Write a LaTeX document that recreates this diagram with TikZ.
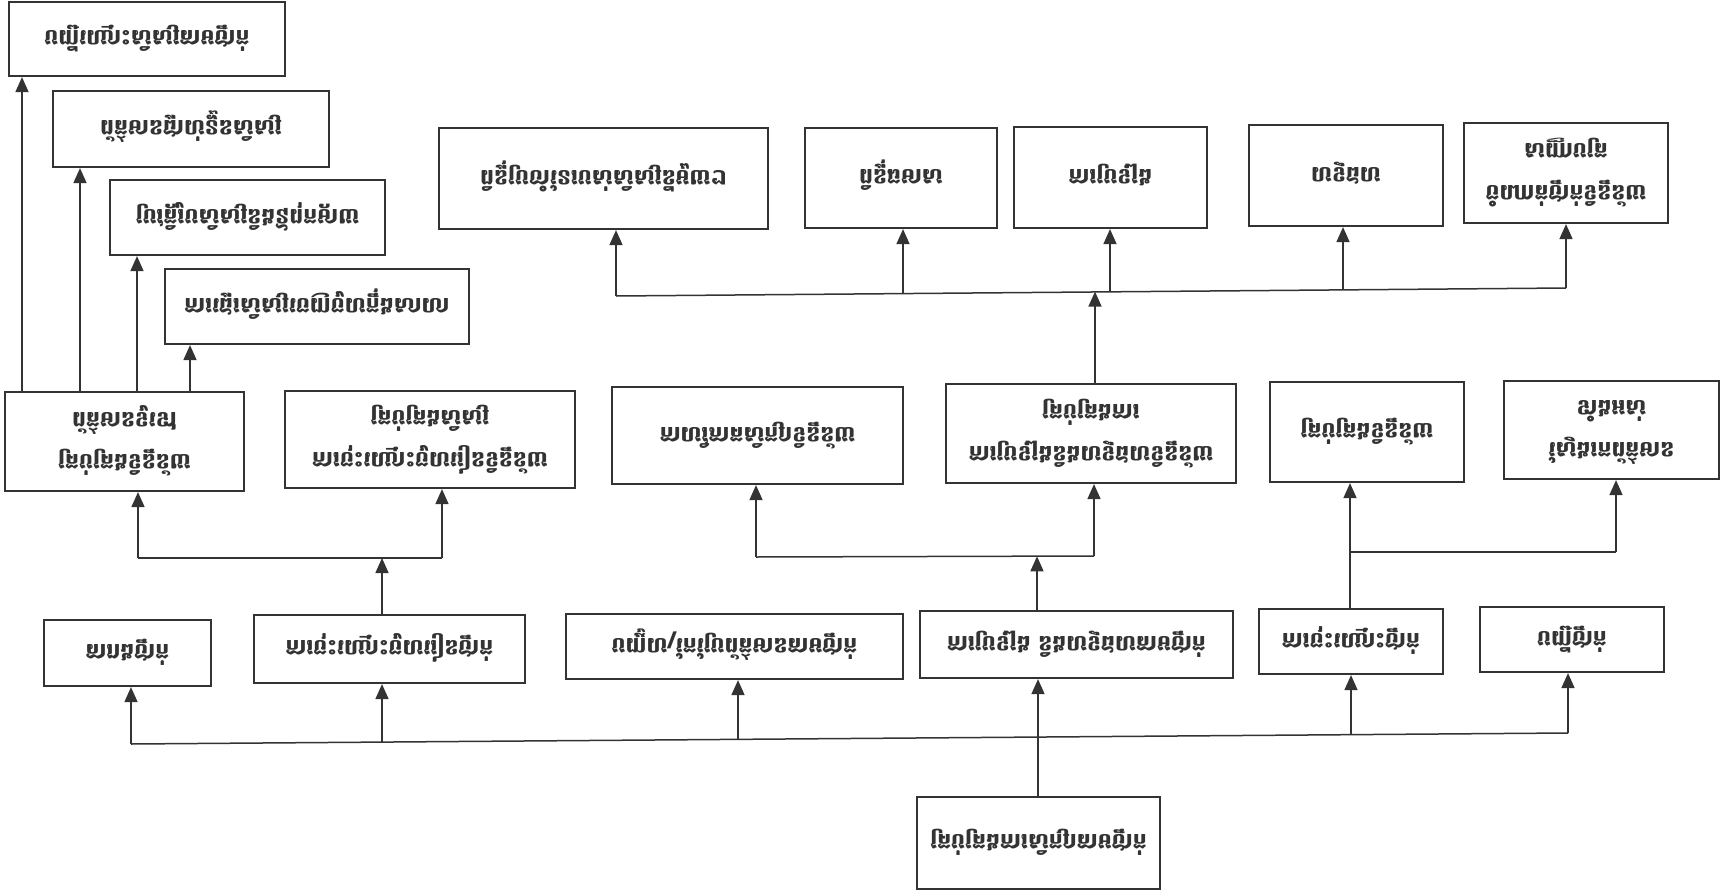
\documentclass[tikz,border=0pt]{standalone}
\usepackage{fontspec}
\usepackage{graphicx}
\newfontfamily\khmer[Script=Khmer]{Battambang}
\usetikzlibrary{arrows.meta}
\definecolor{ink}{HTML}{333333}
\newcommand\fl[1]{\scalebox{1}[-1]{\khmer\bfseries\fontsize{22}{42}\selectfont\begin{tabular}{@{}c@{}}#1\end{tabular}}}
\newcommand\slashup{\raisebox{0.42em}{\scalebox{1}[-1]{/}}}
\begin{document}
\begin{tikzpicture}[x=1pt,y=-1pt,
  box/.style={draw=ink,line width=2.2pt,fill=white,inner sep=0pt,text=ink},
  ln/.style={draw=ink,line width=1.5pt},
  arr/.style={draw=ink,line width=1.5pt,-{Triangle[length=15pt,width=13pt]}}]
\fill[white] (0,0) rectangle (1721,894);
\useasboundingbox (0,0) rectangle (1721,894);
% boxes
\node[box,minimum width=276pt,minimum height=74pt] (A1) at (147,39) {\fl{បញ្ជីឈ្មោះសិស្សតាមថ្នាក់}};
\node[box,minimum width=276pt,minimum height=76pt] (A2) at (191,129) {\fl{ព័ត៌មានផ្ទាល់ខ្លួនសិស្ស}};
\node[box,minimum width=275pt,minimum height=75pt] (A3) at (247.5,217.5) {\fl{ប្រវត្តិរូបសិស្សនិងឪពុកម្តាយ}};
\node[box,minimum width=304pt,minimum height=75pt] (A4) at (317,306.5) {\fl{ការផ្ទេរសិស្សចេញចូលក្នុងសាលា}};
\node[box,minimum width=239pt,minimum height=99pt] (M1) at (124.5,441.5) {\fl{គ្រប់គ្រងទិន្នន័យ\\ព័ត៌មានទូទៅ}};
\node[box,minimum width=290pt,minimum height=97pt] (M2) at (430,439.5) {\fl{ការចុះឈ្មោះចូលរៀនទិន្នន័យ\\គ្រប់គ្រងសិស្ស}};
\node[box,minimum width=291pt,minimum height=97pt] (M3) at (757.5,435.5) {\fl{កាលវិភាគសិក្សាទិន្នន័យ}};
\node[box,minimum width=290pt,minimum height=99pt] (M4) at (1091,433.5) {\fl{ការប្រឡងនិងលទ្ធផលទិន្នន័យ\\គ្រប់គ្រងការ}};
\node[box,minimum width=194pt,minimum height=100pt] (M5) at (1367,432) {\fl{គ្រប់គ្រងទិន្នន័យ}};
\node[box,minimum width=215pt,minimum height=98pt] (M6) at (1611.5,430) {\fl{ស្វែងរកព័ត៌មាន\\ទាំងអស់}};
\node[box,minimum width=329pt,minimum height=101pt] (T1) at (603.5,178.5) {\fl{ពិន្ទុប្រចាំខែរបស់សិស្សនីមួយៗ}};
\node[box,minimum width=192pt,minimum height=100pt] (T2) at (901,178) {\fl{ពិន្ទុឆមាស}};
\node[box,minimum width=193pt,minimum height=101pt] (T3) at (1110.5,177.5) {\fl{ការប្រឡង}};
\node[box,minimum width=194pt,minimum height=101pt] (T4) at (1346,175.5) {\fl{លទ្ធផល}};
\node[box,minimum width=204pt,minimum height=100pt] (T5) at (1566,173) {\fl{ចំណាត់ថ្នាក់ទិន្នន័យ\\សញ្ញាបត្រ}};
\node[box,minimum width=167pt,minimum height=66pt] (B1) at (127.5,653) {\fl{តារាងថ្នាក់}};
\node[box,minimum width=271pt,minimum height=68pt] (B2) at (389.5,649) {\fl{ការចុះឈ្មោះចូលរៀនថ្នាក់}};
\node[box,minimum width=337pt,minimum height=65pt] (B3) at (734.5,646.5) {\fl{បញ្ចូល\slashup កែប្រែព័ត៌មានតាមថ្នាក់}};
\node[box,minimum width=313pt,minimum height=67pt] (B4) at (1076.5,644.5) {\fl{ការប្រឡង និងលទ្ធផលតាមថ្នាក់}};
\node[box,minimum width=184pt,minimum height=65pt] (B5) at (1351,641.5) {\fl{ការចុះឈ្មោះថ្នាក់}};
\node[box,minimum width=184pt,minimum height=65pt] (B6) at (1572,639.5) {\fl{បញ្ជីថ្នាក់}};
\node[box,minimum width=243pt,minimum height=92pt] (R) at (1038.5,843) {\fl{គ្រប់គ្រងការសិក្សាតាមថ្នាក់}};
% bus coordinates
\coordinate (k1) at (131,744);
\coordinate (k2) at (382,742);
\coordinate (k3) at (738,739.5);
\coordinate (k4) at (1038,737);
\coordinate (k5) at (1351,734.5);
\coordinate (k6) at (1568,733);
\draw[arr] (R.north -| k4) -- (k4 |- B4.south);
\draw[ln] (k1) -- (k6);
\draw[arr] (k1) -- (k1 |- B1.south);
\draw[arr] (k2) -- (k2 |- B2.south);
\draw[arr] (k3) -- (k3 |- B3.south);
\draw[arr] (k5) -- (k5 |- B5.south);
\draw[arr] (k6) -- (k6 |- B6.south);
% middle level
\coordinate (m1) at (138,558);
\coordinate (m2) at (442,558);
\coordinate (m12) at (382,558);
\draw[arr] (m12 |- B2.north) -- (m12);
\draw[ln] (m1) -- (m2);
\draw[arr] (m1) -- (m1 |- M1.south);
\draw[arr] (m2) -- (m2 |- M2.south);
\coordinate (m3) at (756,557);
\coordinate (m4) at (1094,556);
\coordinate (m34) at (1037,556.3);
\draw[arr] (m34 |- B4.north) -- (m34);
\draw[ln] (m3) -- (m4);
\draw[arr] (m3) -- (m3 |- M3.south);
\draw[arr] (m4) -- (m4 |- M4.south);
\coordinate (m5) at (1350,552);
\coordinate (m6) at (1616,552);
\draw[arr] (m5 |- B5.north) -- (m5 |- M5.south);
\draw[ln] (m5) -- (m6);
\draw[arr] (m6) -- (m6 |- M6.south);
% top level
\coordinate (t1) at (616,296);
\coordinate (t2) at (903,293.5);
\coordinate (t3) at (1110,291.5);
\coordinate (t4) at (1343,289.5);
\coordinate (t5) at (1566,288);
\coordinate (tm) at (1095,291.6);
\draw[ln] (t1) -- (t5);
\draw[arr] (tm |- M4.north) -- (tm);
\draw[arr] (t1) -- (t1 |- T1.south);
\draw[arr] (t2) -- (t2 |- T2.south);
\draw[arr] (t3) -- (t3 |- T3.south);
\draw[arr] (t4) -- (t4 |- T4.south);
\draw[arr] (t5) -- (t5 |- T5.south);
% left group
\coordinate (a1) at (22,0);
\coordinate (a2) at (80,0);
\coordinate (a3) at (137,0);
\coordinate (a4) at (190,0);
\draw[arr] (a1 |- M1.north) -- (a1 |- A1.south);
\draw[arr] (a2 |- M1.north) -- (a2 |- A2.south);
\draw[arr] (a3 |- M1.north) -- (a3 |- A3.south);
\draw[arr] (a4 |- M1.north) -- (a4 |- A4.south);
\end{tikzpicture}
\end{document}
